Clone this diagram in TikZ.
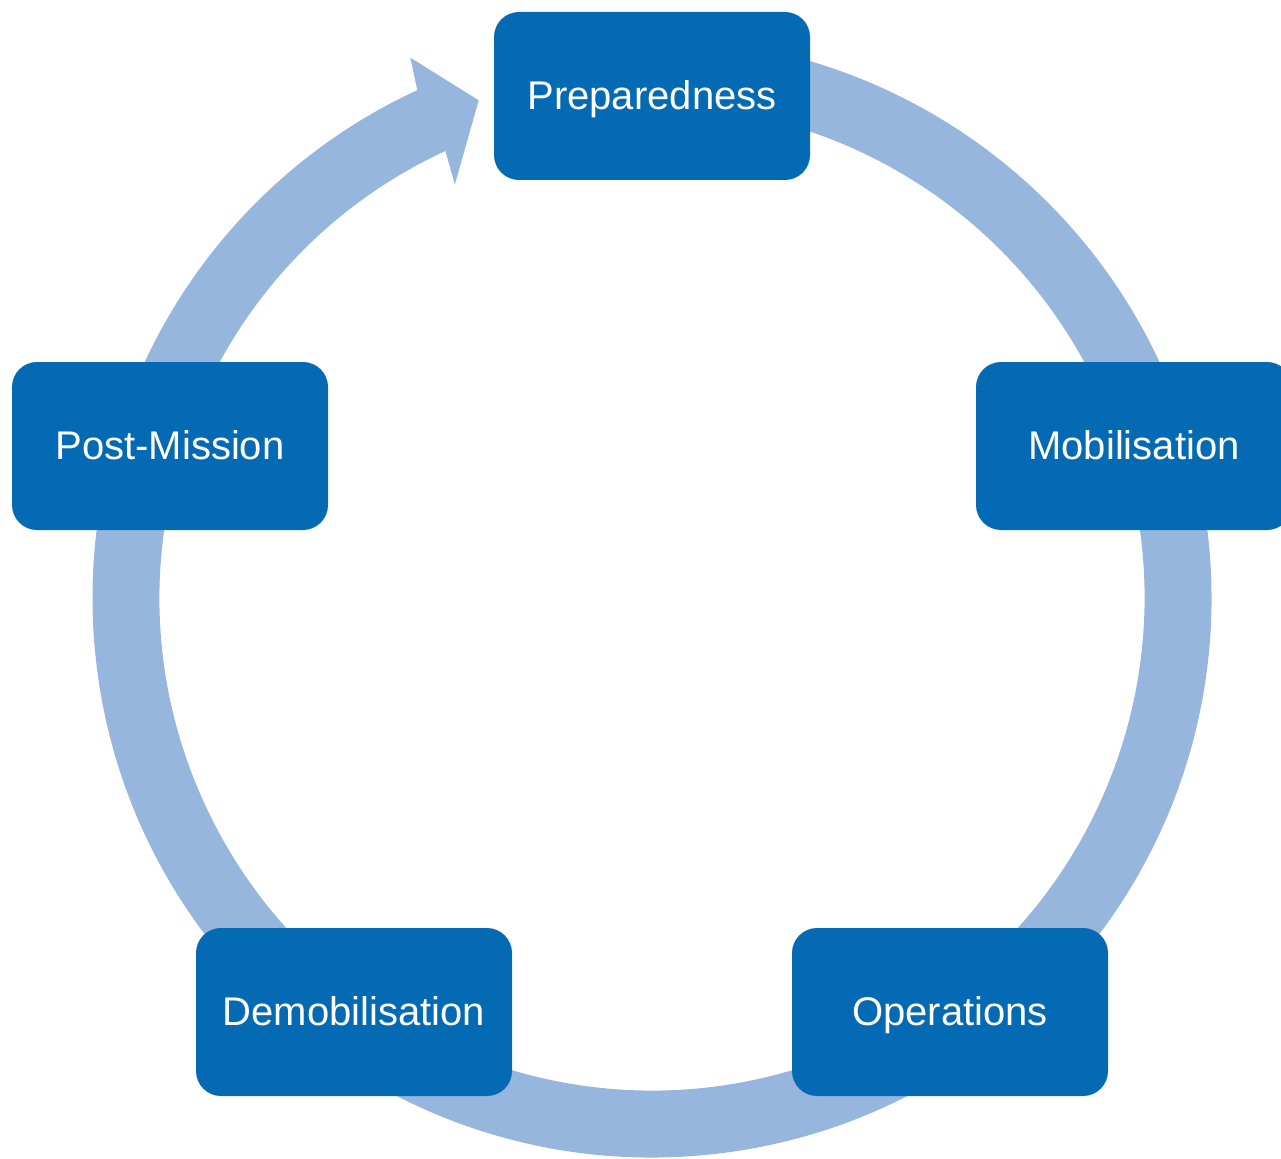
\documentclass[tikz,border=0pt]{standalone}
\usepackage{fontspec}
\setmainfont{Liberation Sans}
\definecolor{stageblue}{RGB}{5,106,180}
\definecolor{ringblue}{RGB}{151,182,222}
\tikzset{stage/.style={fill=stageblue, text=white, rounded corners=25pt,
    minimum width=316pt, minimum height=168pt, text height=29pt, text depth=2pt,
    font=\fontsize{40}{48}\selectfont}}
\begin{document}
\begin{tikzpicture}[x=1pt, y=1pt]
\useasboundingbox (0,0) rectangle (1281,-1158);
\clip (0,0) rectangle (1281,-1158);
\begin{scope}[shift={(652,-598)}]
\fill[ringblue] (95:559.5) arc[start angle=95, end angle=-245.2, radius=559.5]
    --(114.1:592)--(109.2:527)--(115.5:458)--(114.8:492.5)
    arc[start angle=-245.2, end angle=95, radius=492.5]--cycle;
\end{scope}
\node[stage] (prep) at (652,-96){Preparedness};
\node[stage] (mob) at (1134,-446){Mobilisation};
\node[stage] (ops) at (950,-1012){Operations};
\node[stage] (demob) at (354,-1012){Demobilisation};
\node[stage] (post) at (170,-446){Post-Mission};
\end{tikzpicture}
\end{document}
